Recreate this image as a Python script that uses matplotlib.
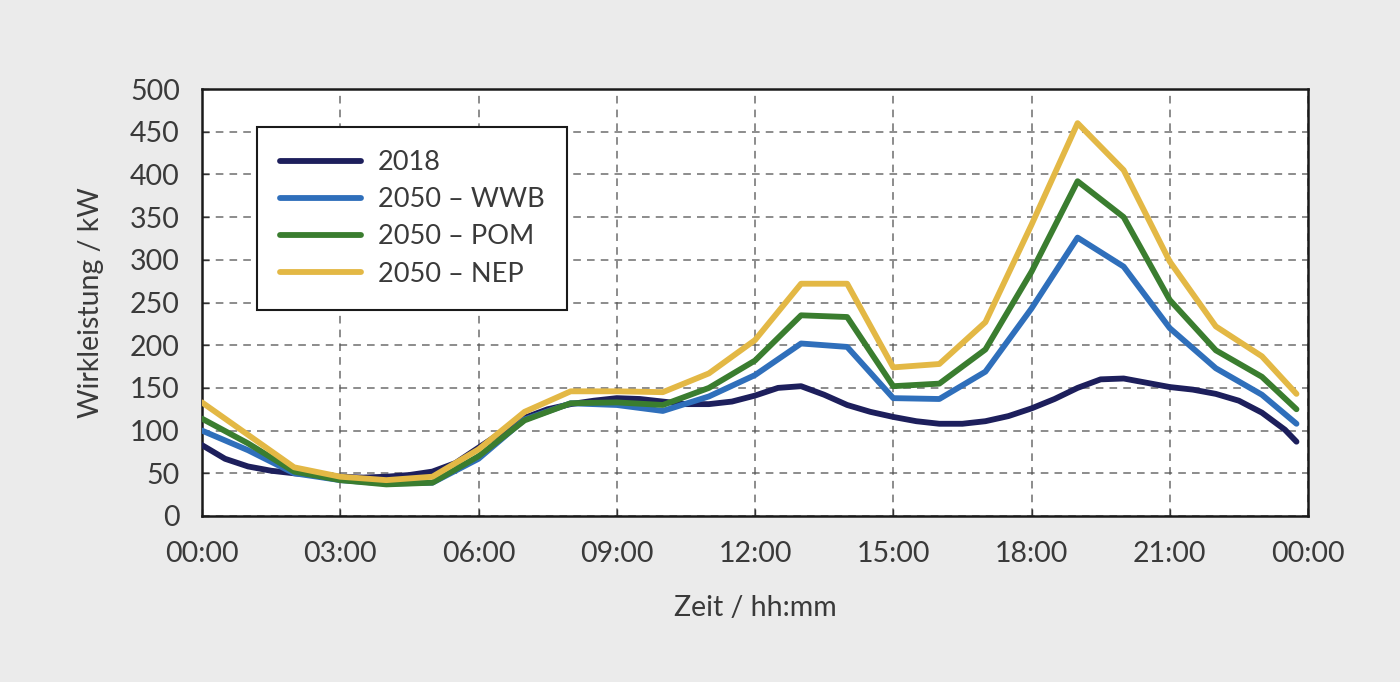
import matplotlib
matplotlib.use("Agg")
import matplotlib.pyplot as plt
from matplotlib.ticker import FixedLocator

plt.rcParams['font.family'] = ['Lato', 'DejaVu Sans']

hours = [0, 1, 2, 3, 4, 5, 6, 7, 8, 9, 10, 11, 12, 13, 14, 15, 16, 17, 18, 19, 20, 21, 22, 23, 23.75]
hours_2018 = [0, 0.5, 1, 1.5, 2, 2.5, 3, 3.5, 4, 4.5, 5, 5.5, 6, 6.5, 7, 7.5, 8, 8.5, 9, 9.5, 10, 10.5, 11, 11.5,
              12, 12.5, 13, 13.5, 14, 14.5, 15, 15.5, 16, 16.5, 17, 17.5, 18, 18.5, 19, 19.5, 20, 20.5, 21, 21.5,
              22, 22.5, 23, 23.5, 23.75]
p2018 = [83, 67, 58, 53, 50, 48, 46, 45, 46, 48, 52, 62, 80, 98, 115, 125, 131, 135, 138, 137, 134, 131, 131, 134,
         141, 150, 152, 142, 130, 122, 116, 111, 108, 108, 111, 117, 126, 137, 150, 160, 161, 156, 151, 148,
         143, 135, 121, 101, 87]
wwb = [100, 77, 50, 42, 38, 39, 67, 113, 132, 130, 123, 140, 165, 202, 198, 138, 137, 169, 243, 326, 292, 220, 173, 142, 108]
pom = [114, 85, 52, 42, 37, 39, 70, 112, 132, 133, 130, 150, 182, 235, 233, 152, 155, 195, 286, 392, 350, 253, 194, 163, 125]
nep = [133, 95, 57, 46, 42, 46, 78, 122, 146, 146, 145, 167, 206, 272, 272, 174, 178, 227, 341, 460, 405, 298, 222, 187, 143]

series_labels = ['2018', '2050 – WWB', '2050 – POM', '2050 – NEP']
colors = ['#1d1f5c', '#2f6fbb', '#3a7d2f', '#e3b845']
xtick_pos = [0, 3, 6, 9, 12, 15, 18, 21, 24]
xtick_labels = ['00:00', '03:00', '06:00', '09:00', '12:00', '15:00', '18:00', '21:00', '00:00']
ytick_pos = [0, 50, 100, 150, 200, 250, 300, 350, 400, 450, 500]

bg = '#ebebeb'
txt = '#3a3a3a'
fs = 20.5

fig = plt.figure(figsize=(14, 6.82), dpi=100, facecolor=bg)
ax = fig.add_axes([202/1400, 1-516/682, (1308-202)/1400, (516-89)/682])
ax.set_facecolor('white')

xs = [hours_2018, hours, hours, hours]
for x, vals, lab, c in zip(xs, [p2018, wwb, pom, nep], series_labels, colors):
    ax.plot(x, vals, color=c, lw=4.2, label=lab, solid_capstyle='round', solid_joinstyle='round', zorder=3)

ax.set_xlim(0, 24)
ax.set_ylim(0, 500)
ax.xaxis.set_major_locator(FixedLocator(xtick_pos))
ax.set_xticklabels(xtick_labels)
ax.yaxis.set_major_locator(FixedLocator(ytick_pos))

ax.grid(True, color='#555555', linestyle=(0, (5, 4)), linewidth=1.1, alpha=0.85)
ax.set_axisbelow(True)

for s in ax.spines.values():
    s.set_color('#1a1a1a')
    s.set_linewidth(1.8)

ax.tick_params(axis='x', direction='in', length=5, width=1, color='#333333',
               labelsize=fs, labelcolor=txt, pad=18)
ax.tick_params(axis='y', direction='in', length=5, width=1, color='#333333',
               labelsize=fs, labelcolor=txt, pad=16)

ax.set_xlabel('Zeit / hh:mm', fontsize=fs, color=txt, labelpad=20)
ax.set_ylabel('Wirkleistung / kW', fontsize=fs, color=txt, labelpad=19)

leg = ax.legend(loc='upper left', bbox_to_anchor=((257-202)/1106, 1-(127-89)/427),
                fontsize=19.5, frameon=True, fancybox=False, handlelength=3.0,
                handletextpad=0.6, borderpad=0.85, labelspacing=0.45, borderaxespad=0)
leg.get_frame().set_edgecolor('#1a1a1a')
leg.get_frame().set_linewidth(1.5)
leg.get_frame().set_alpha(1)
for t in leg.get_texts():
    t.set_color(txt)

fig.savefig('out.png', dpi=100, facecolor=bg)
